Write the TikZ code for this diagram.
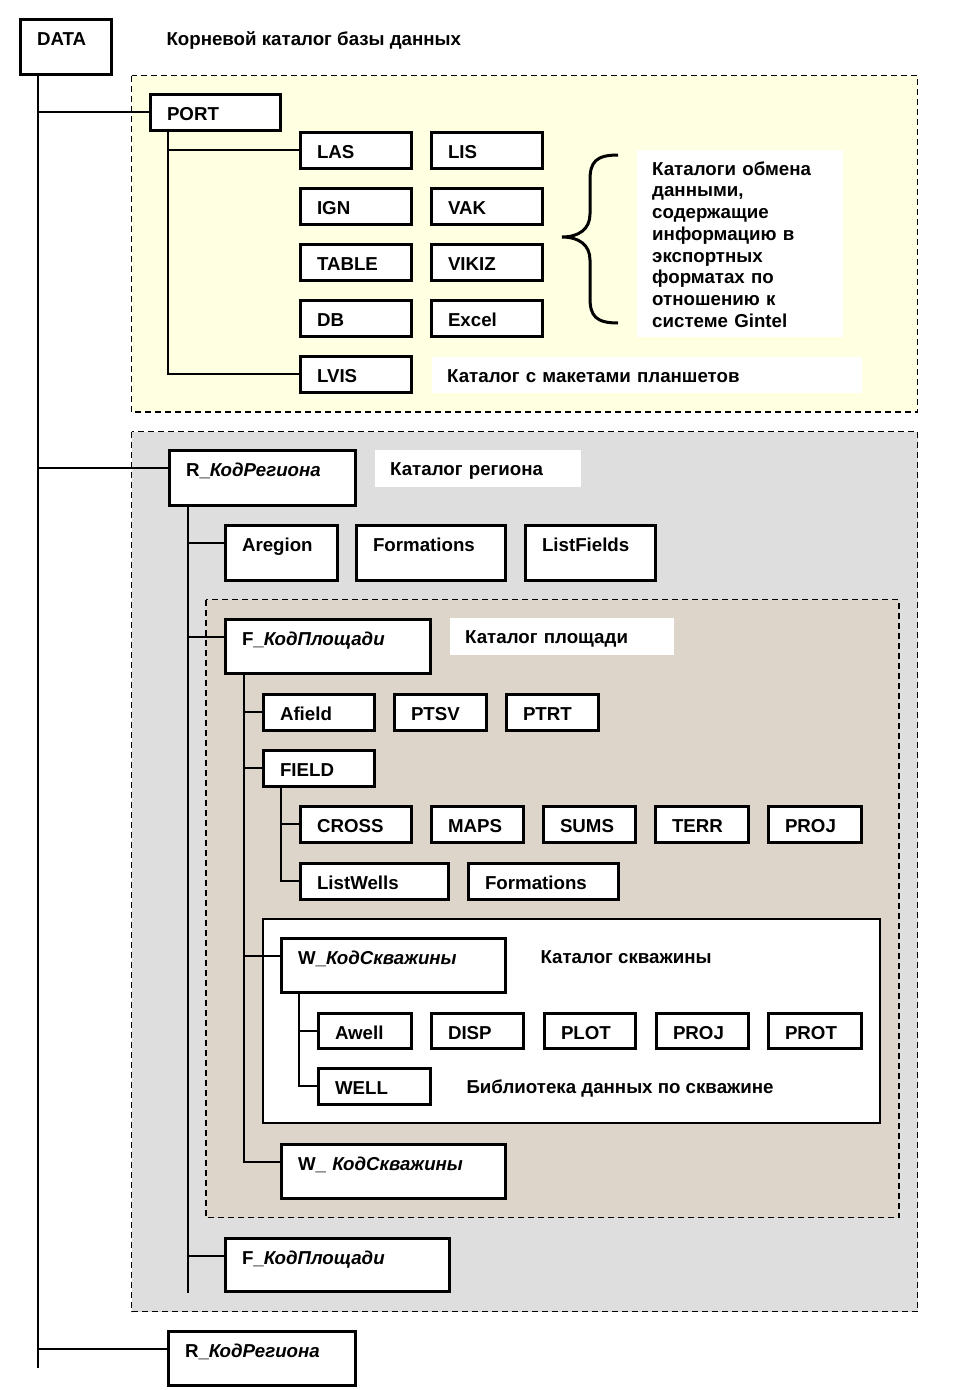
\documentclass[tikz,border=0pt]{standalone}
\usepackage{fontspec}
\setmainfont{Liberation Sans}
\definecolor{portfill}{RGB}{255,255,226}
\definecolor{regfill}{RGB}{222,222,222}
\definecolor{fldfill}{RGB}{221,212,202}

\begin{document}
\begin{tikzpicture}[x=1pt, y=-1pt,
  every node/.style={font=\fontsize{18.7}{21.7}\selectfont\bfseries},
  dirbox/.style 2 args={draw, line width=3pt, fill=white, anchor=north west, inner xsep=16.5pt, inner ysep=0pt, text width=#1pt-36pt, align=left, text height=26pt, text depth=#2pt-29pt},
  note/.style 2 args={fill=white, anchor=north west, inner xsep=15pt, inner ysep=0pt, text width=#1pt-30pt, align=left, text height=25pt, text depth=#2pt-25pt},
  link/.style={line width=1.5pt},
  region/.style={line width=1.5pt, dash pattern=on 6pt off 4pt}]
\useasboundingbox (0,0) rectangle (975,1390);
%regions
\draw[region, fill=portfill] (131.5,75.5) rectangle (917.5,412);
\draw[region, fill=regfill] (131.5,431.5) rectangle (917.5,1311.5);
\draw[region, fill=fldfill] (206,599.5) rectangle (899,1217.5);
\draw[line width=2.5pt, fill=white] (263,919) rectangle (880,1123);

%root
\node[dirbox={94}{58}] (data) at (19,18) {DATA};
\node[anchor=base west] (title) at (163,45) {Корневой каталог базы данных};

%port
\node[dirbox={133}{39}] (port) at (149,93) {PORT};
\node[dirbox={114}{39}] (las) at (299,131) {LAS};
\node[dirbox={114}{39}] (lis) at (430,131) {LIS};
\node[dirbox={114}{39}] (ign) at (299,187) {IGN};
\node[dirbox={114}{39}] (vak) at (430,187) {VAK};
\node[dirbox={114}{39}] (table) at (299,243) {TABLE};
\node[dirbox={114}{39}] (vikiz) at (430,243) {VIKIZ};
\node[dirbox={114}{39}] (db) at (299,299) {DB};
\node[dirbox={114}{39}] (excel) at (430,299) {Excel};
\node[dirbox={114}{39}] (lvis) at (299,355) {LVIS};
\draw[line width=3pt] (618,155) .. controls (596,155) and (590,162) .. (590,180) -- (590,214)
  .. controls (590,229) and (579,237) .. (562,237) .. controls (579,237) and (590,245) .. (590,260)
  -- (590,298) .. controls (590,316) and (596,323) .. (618,323);
\node[note={206}{187}] (exch) at (637,150) {Каталоги обмена\\данными,\\содержащие\\информацию в\\экспортных\\форматах по\\отношению к\\системе Gintel};
\node[note={430}{36}] (lvisnote) at (432,357) {Каталог с макетами планшетов};

%region
\node[dirbox={189}{58}] (r1) at (168,449) {R\_\textit{КодРегиона}};
\node[note={206}{37}] (r1note) at (375,450) {Каталог региона};
\node[dirbox={115}{58}] (areg) at (224,524) {Aregion};
\node[dirbox={152}{58}] (form1) at (355,524) {Formations};
\node[dirbox={133}{58}] (lfields) at (524,524) {ListFields};

%field
\node[dirbox={208}{57}] (f1) at (224,618) {F\_\textit{КодПлощади}};
\node[note={224}{37}] (f1note) at (450,618) {Каталог площади};
\node[dirbox={114}{39}] (afield) at (262,693) {Afield};
\node[dirbox={95}{39}] (ptsv) at (393,693) {PTSV};
\node[dirbox={95}{39}] (ptrt) at (505,693) {PTRT};
\node[dirbox={114}{39}] (field) at (262,749) {FIELD};
\node[dirbox={114}{39}] (cross) at (299,805) {CROSS};
\node[dirbox={95}{39}] (maps) at (430,805) {MAPS};
\node[dirbox={95}{39}] (sums) at (542,805) {SUMS};
\node[dirbox={96}{39}] (terr) at (654,805) {TERR};
\node[dirbox={96}{39}] (proja) at (767,805) {PROJ};
\node[dirbox={151}{39}] (lwells) at (299,862) {ListWells};
\node[dirbox={153}{39}] (form2) at (467,862) {Formations};

%well
\node[dirbox={227}{57}] (w1) at (280,937) {W\_\textit{КодСкважины}};
\node[anchor=base west] (w1note) at (537,963) {Каталог скважины};
\node[dirbox={96}{38}] (awell) at (317,1012) {Awell};
\node[dirbox={95}{38}] (disp) at (430,1012) {DISP};
\node[dirbox={94}{38}] (plot) at (543,1012) {PLOT};
\node[dirbox={95}{38}] (projb) at (655,1012) {PROJ};
\node[dirbox={96}{38}] (prot) at (767,1012) {PROT};
\node[dirbox={115}{39}] (well) at (317,1067) {WELL};
\node[anchor=base west] (wellnote) at (463,1093) {Библиотека данных по скважине};
\node[dirbox={227}{57}] (w2) at (280,1143) {W\_ \textit{КодСкважины}};
\node[dirbox={227}{56}] (f2) at (224,1237) {F\_\textit{КодПлощади}};
\node[dirbox={190}{57}] (r2) at (167,1330) {R\_\textit{КодРегиона}};

%tree lines
\coordinate (dataend) at (38,1368);
\draw[link] ([xshift=19pt]data.south west) coordinate (datav) -- (dataend);
\draw[link] ([xshift=19pt]port.south west) coordinate (portv) |- ([yshift=-19pt]lvis.north west);
\draw[link] ([xshift=20pt]r1.south west) coordinate (rv) -- (rv |- f2.south);
\draw[link] ([xshift=20pt]f1.south west) coordinate (fv) |- ([yshift=-19pt]w2.north west);
\draw[link] ([xshift=19pt]field.south west) coordinate (fieldv) |- ([yshift=-19pt]lwells.north west);
\draw[link] ([xshift=19pt]w1.south west) coordinate (wv) |- ([yshift=-19pt]well.north west);
\foreach \v/\c in {datav/port,datav/r1,datav/r2,portv/las,rv/areg,rv/f1,rv/f2,fv/afield,fv/field,fv/w1,fieldv/cross,wv/awell}
  \draw[link] (\v |- \c.north west) ++(0,19) -- ([yshift=-19pt]\c.north west);
\end{tikzpicture}
\end{document}
